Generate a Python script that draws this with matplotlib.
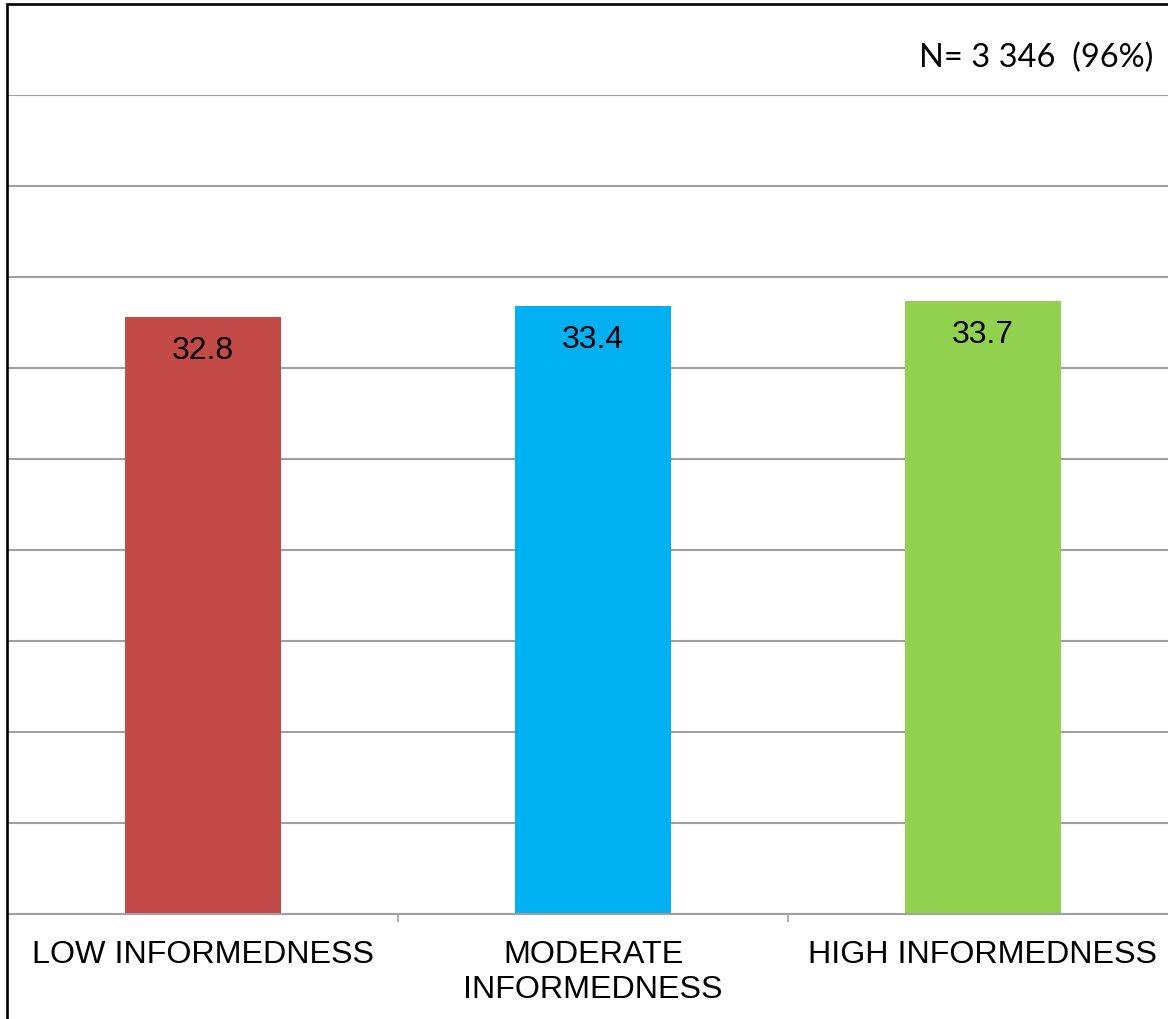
import matplotlib
matplotlib.use("Agg")
import matplotlib.pyplot as plt
from matplotlib.patches import Rectangle

categories = ["LOW INFORMEDNESS", "MODERATE\nINFORMEDNESS", "HIGH INFORMEDNESS"]
values = [32.8, 33.4, 33.7]
colors = ["#C44A48", "#00B0F0", "#92D050"]
note = "N= 3 346  (96%)"

W, H = 1168, 1020
fig = plt.figure(figsize=(W / 100, H / 100), dpi=100)

# plot area (pixel geometry converted to figure fractions)
left, right, bottom, top = 8, 1178, 915, 96
ax = fig.add_axes([left / W, (H - bottom) / H, (right - left) / W, (bottom - top) / H])

x = list(range(len(categories)))
ax.bar(x, values, width=0.40, color=colors, zorder=2)
ax.set_xlim(-0.5, len(categories) - 0.5)
ax.set_ylim(0, 45)

ax.set_yticks(range(0, 46, 5))
ax.yaxis.grid(True, color="#A0A0A0", linewidth=1.5, zorder=0)
ax.set_axisbelow(True)
ax.tick_params(axis="y", length=0, labelleft=False)

for s in ["top", "right", "left"]:
    ax.spines[s].set_visible(False)
ax.spines["bottom"].set_color("#A0A0A0")
ax.spines["bottom"].set_linewidth(1.5)

ax.set_xticks(x)
ax.set_xticklabels(categories, fontsize=23.2, family="Liberation Sans",
                   linespacing=1.2)
ax.tick_params(axis="x", which="major", length=0, pad=18)
ax.set_xticks([0.5, 1.5], minor=True)
ax.tick_params(axis="x", which="minor", length=6, width=1.2, color="#A0A0A0")

for xi, v in zip(x, values):
    ax.annotate(f"{v:.1f}", xy=(xi, v), xytext=(0, -13), textcoords="offset points",
                ha="center", va="top", fontsize=23, family="Liberation Sans",
                color="black", zorder=3)

fig.text(1153 / W, 1 - 58 / H, note, ha="right", va="center",
         fontsize=23.5, family="Lato", color="black")

# chart-area outline
fig.patches.append(Rectangle((7 / W, -0.1), 1.2, 1 - 5 / H + 0.1,
                             transform=fig.transFigure, fill=False,
                             edgecolor="black", linewidth=1.9, zorder=5))

fig.savefig("out.png", dpi=100, facecolor="white")
